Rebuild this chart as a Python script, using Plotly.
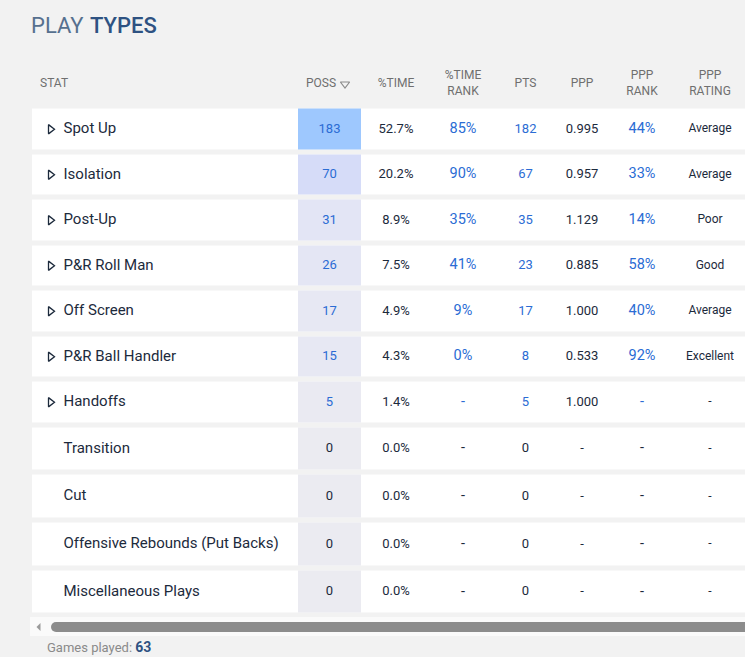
import plotly.graph_objects as go

# ── data ─────────────────────────────────────────────────────────────────────
PLAY_TYPES = ["Spot Up", "Isolation", "Post-Up", "P&R Roll Man", "Off Screen",
              "P&R Ball Handler", "Handoffs", "Transition", "Cut",
              "Offensive Rebounds (Put Backs)", "Miscellaneous Plays"]
EXPANDABLE = [True, True, True, True, True, True, True, False, False, False, False]
POSS = [183, 70, 31, 26, 17, 15, 5, 0, 0, 0, 0]
PCT_TIME = [52.7, 20.2, 8.9, 7.5, 4.9, 4.3, 1.4, 0.0, 0.0, 0.0, 0.0]
PCT_TIME_RANK = [85, 90, 35, 41, 9, 0, None, None, None, None, None]
PTS = [182, 67, 35, 23, 17, 8, 5, 0, 0, 0, 0]
PPP = [0.995, 0.957, 1.129, 0.885, 1.000, 0.533, 1.000, None, None, None, None]
PPP_RANK = [44, 33, 14, 58, 40, 92, None, None, None, None, None]
PPP_RATING = ["Average", "Average", "Poor", "Good", "Average", "Excellent",
              None, None, None, None, None]
GAMES_PLAYED = 63

HEADERS = ["STAT", "POSS", "%TIME", "%TIME<br>RANK", "PTS", "PPP",
           "PPP<br>RANK", "PPP<br>RATING"]

# ── layout (pixel space) ─────────────────────────────────────────────────────
W, H = 745, 657
BG = "#f2f2f2"
DARK = "#1c2a3c"
BLUE = "#2b6cd4"
GREY = "#6f6f6f"
FONT = "Roboto"

TABLE_X0, TABLE_X1 = 32, 760
POSS_X0, POSS_X1 = 298, 361
COL_X = [None, 329.5, 396, 463, 525.5, 582, 642, 710]
HEADER_X = [40, 321, 396, 463, 525.5, 582, 642, 710]
HEADER_Y = 84
GAP = 5
ROW_TOP = 106.5
ROW_PITCH = [45.5] * 7 + [47.7] * 4

edges = [ROW_TOP]
for p in ROW_PITCH:
    edges.append(edges[-1] + p)
row_y = [(a + b) / 2 for a, b in zip(edges[:-1], edges[1:])]
n = len(PLAY_TYPES)

fig = go.Figure()

# row backgrounds
fig.add_trace(go.Heatmap(
    x=[TABLE_X0, TABLE_X1], y=edges, z=[[1] for _ in range(n)],
    colorscale=[[0, "#ffffff"], [1, "#ffffff"]], showscale=False,
    ygap=GAP, hoverinfo="skip",
))
# POSS column shading
fig.add_trace(go.Heatmap(
    x=[POSS_X0, POSS_X1], y=edges, z=[[v] for v in POSS],
    zmin=0, zmax=max(POSS),
    colorscale=[[0, "#ebebf1"], [0.17, "#e3e5f5"], [0.38, "#d6dcf8"], [1, "#9ec8fe"]],
    showscale=False, ygap=GAP, hoverinfo="skip",
))


def text_col(x, labels, colors, size, pos="middle center"):
    fig.add_trace(go.Scatter(
        x=[x] * len(labels), y=row_y, mode="text", text=labels,
        textposition=pos, hoverinfo="skip",
        textfont=dict(family=FONT, size=size, color=colors),
    ))


dash = "-"
fmt_pct = lambda v: dash if v is None else f"{v}%"
active = [p > 0 for p in POSS]

# play type names + expand arrows
text_col(63.5, PLAY_TYPES, [DARK] * n, 15, "middle right")
ex_y = [y for y, e in zip(row_y, EXPANDABLE) if e]
fig.add_trace(go.Scatter(
    x=[50.5] * len(ex_y), y=ex_y, mode="markers", hoverinfo="skip",
    marker=dict(symbol="triangle-right-open", size=8, color=DARK,
                line=dict(width=1.3, color=DARK)),
))

text_col(COL_X[1], [str(v) for v in POSS], [BLUE if a else DARK for a in active], 13)
text_col(COL_X[2], [f"{v:.1f}%" for v in PCT_TIME], [DARK] * n, 13)
text_col(COL_X[3], [fmt_pct(v) for v in PCT_TIME_RANK],
         [BLUE if a else DARK for a in active], 14.5)
text_col(COL_X[4], [str(v) for v in PTS], [BLUE if v > 0 else DARK for v in PTS], 13)
text_col(COL_X[5], [dash if v is None else f"{v:.3f}" for v in PPP], [DARK] * n, 13)
text_col(COL_X[6], [fmt_pct(v) for v in PPP_RANK],
         [BLUE if a else DARK for a in active], 14.5)
text_col(COL_X[7], [dash if v is None else v for v in PPP_RATING], [DARK] * n, 12)

# header
fig.add_trace(go.Scatter(
    x=HEADER_X, y=[HEADER_Y] * len(HEADERS), mode="text", text=HEADERS,
    textposition=["middle right"] + ["middle center"] * (len(HEADERS) - 1),
    hoverinfo="skip", textfont=dict(family=FONT, size=12, color=GREY),
))
fig.add_trace(go.Scatter(
    x=[345], y=[HEADER_Y], mode="markers", hoverinfo="skip",
    marker=dict(symbol="triangle-down-open", size=8, color="#8a8a8a",
                line=dict(width=1.2, color="#8a8a8a")),
))

# horizontal scrollbar
fig.add_shape(type="rect", x0=30, x1=W, y0=617, y1=636,
              fillcolor="#fafafa", line_width=0, layer="below")
fig.add_shape(type="circle", x0=51, x1=61, y0=622, y1=632,
              fillcolor="#8c8c8c", line_width=0)
fig.add_shape(type="rect", x0=56, x1=W, y0=622, y1=632,
              fillcolor="#8c8c8c", line_width=0)
fig.add_shape(type="path", path="M 40.5 623 L 36.5 627 L 40.5 631 Z",
              fillcolor="#9a9a9a", line_width=0)

# title + footer
fig.add_annotation(x=29, y=25, text="PLAY", showarrow=False, xanchor="left",
                   font=dict(family=FONT, size=22, color="#56708f", weight=400))
fig.add_annotation(x=88, y=25, text="TYPES", showarrow=False, xanchor="left",
                   font=dict(family=FONT, size=22, color="#2e5282", weight=500))
fig.add_annotation(
    x=45, y=647, xanchor="left", showarrow=False,
    text=(f"Games played: <b><span style='color:#2e5282;font-size:14px'>"
          f"{GAMES_PLAYED}</span></b>"),
    font=dict(family=FONT, size=13, color="#8a8a8a"),
)

fig.update_layout(
    width=W, height=H,
    margin=dict(l=0, r=0, t=0, b=0),
    paper_bgcolor=BG, plot_bgcolor=BG,
    showlegend=False,
    xaxis=dict(range=[0, W], visible=False, fixedrange=True),
    yaxis=dict(range=[H, 0], visible=False, fixedrange=True),
)

# page has a default body margin; drop it so the figure fills the window
fig.write_html(
    "out.html",
    config={"displayModeBar": False},
    post_script=f"document.body.style.margin='0';document.body.style.background='{BG}';",
)
